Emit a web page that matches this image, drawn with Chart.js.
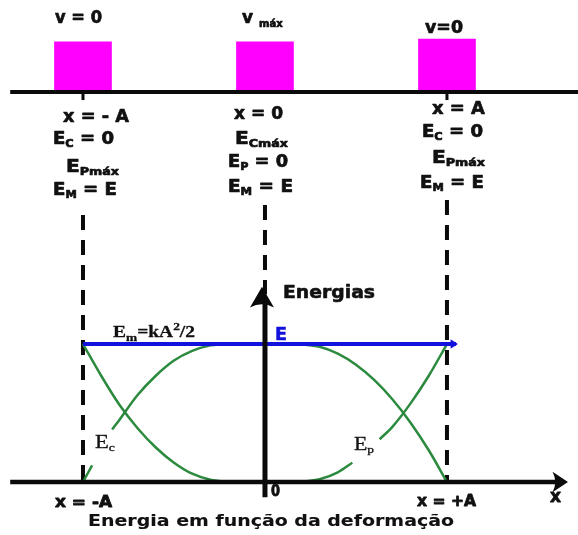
<!DOCTYPE html>
<html>
<head>
<meta charset="utf-8">
<script src="https://cdn.jsdelivr.net/npm/chart.js@4.4.0/dist/chart.umd.min.js"></script>
<style>
    html, body { margin: 0; padding: 0; background: #fff; }
    #wrap { width: 578px; height: 535px; position: relative; }
</style>
</head>
<body>
<div id="wrap"><canvas id="chart"></canvas></div>
<script>
// --- DATA (A = 1, E = 1) ---

// the three positions of the block: x = -A, 0, +A
const positions = [-1, 0, 1];
const speedLabels = ['v = 0', 'v _{máx}', 'v=0'];
const stateLabels = [
    ['x = - A', 'E_{C} = 0', 'E_{Pmáx}', 'E_{M} = E'],
    ['x = 0', 'E_{Cmáx}', 'E_{P} = 0', 'E_{M} = E'],
    ['x = A', 'E_{C} = 0', 'E_{Pmáx}', 'E_{M} = E'],
];

// bottom axis labels
const xTickValues = [-1, 0, 1];
const xTickLabels = ['x = -A', '0', 'x = +A'];
const xAxisTitle = 'x';
const yAxisTitle = 'Energias';
const chartTitle = 'Energia em função da deformação';

// mechanical energy (constant)
const emX = [-1, 1.05];
const emY = [1, 1];
const emLabel = 'E_{m}=kA^{2}/2';

// kinetic energy branches (gap where the label sits)
const ecLeftX = [-1, -0.95, -0.9, -0.84, -0.8, -0.7, -0.6, -0.5, -0.4, -0.3, -0.23];
const ecLeftY = [0, 0.12, null, 0.38, 0.45, 0.63, 0.77, 0.88, 0.95, 0.99, 1];
const ecRightX = [0.18, 0.3, 0.4, 0.5, 0.6, 0.7, 0.8, 0.9, 1];
const ecRightY = [1, 0.98, 0.93, 0.85, 0.74, 0.6, 0.43, 0.23, 0];

// potential energy branches
const epLeftX = [-1, -0.9, -0.8, -0.7, -0.6, -0.5, -0.4, -0.3, -0.2];
const epLeftY = [1, 0.77, 0.56, 0.39, 0.25, 0.14, 0.06, 0.016, 0];
const epRightX = [0.19, 0.3, 0.4, 0.48, 0.55, 0.63, 0.7, 0.8, 0.9, 1];
const epRightY = [0, 0.02, 0.07, 0.14, null, 0.31, 0.4, 0.57, 0.77, 1];

// block (floor line and block top), dashed guide tops
const floorLevel = 2.826;
const blockTop = [3.19, 3.19, 3.21];
const guideTop = [1.935, 2.007, 2.043];
const guideBottom = [0, 1.36, 0];

// --- helpers ---
const pts = (xs, ys) => xs.map((x, i) => ({ x, y: ys[i] }));

function parseRich(s) {
    const out = [];
    const re = /([_^])\{([^}]*)\}/g;
    let last = 0, m;
    while ((m = re.exec(s))) {
        if (m.index > last) out.push({ t: s.slice(last, m.index), k: 0 });
        out.push({ t: m[2], k: m[1] === '_' ? 1 : 2 });
        last = re.lastIndex;
    }
    if (last < s.length) out.push({ t: s.slice(last), k: 0 });
    return out;
}

// draw text (with sub/superscripts) from left x, centred on y, stretched to width w
function drawRich(ctx, s, x, y, w, o) {
    const parts = parseRich(s);
    const fam = o.family || '"DejaVu Sans"';
    const wt = o.weight || 'bold';
    const big = `${wt} ${o.size}px ${fam}`;
    const small = `${wt} ${Math.round(o.size * (o.subScale || 0.68))}px ${fam}`;
    let total = 0;
    parts.forEach(p => { ctx.font = p.k ? small : big; p.w = ctx.measureText(p.t).width; total += p.w; });
    ctx.save();
    ctx.translate(x, y);
    if (w) ctx.scale(w / total, 1);
    ctx.fillStyle = o.color || '#111';
    ctx.strokeStyle = o.color || '#111';
    ctx.lineWidth = o.stroke || 0;
    ctx.lineJoin = 'round';
    ctx.textBaseline = 'middle';
    ctx.textAlign = 'left';
    let cx = 0;
    parts.forEach(p => {
        ctx.font = p.k ? small : big;
        const dy = p.k === 1 ? o.size * 0.3 : p.k === 2 ? -o.size * 0.38 : 0;
        ctx.fillText(p.t, cx, dy);
        if (o.stroke) ctx.strokeText(p.t, cx, dy);
        cx += p.w;
    });
    ctx.restore();
}

// text layout [left, centreY, width] in pixels
const speedLayout = [[55, 19, 47], [242, 19, 0], [425, 29, 38]];
const stateLayout = [
    [[63, 117, 66], [53, 139, 61], [66, 167, 53], [53, 190, 64]],
    [[234, 114, 49], [235, 139, 53], [228, 162, 60], [228, 187, 65]],
    [[432, 109, 53], [422, 132, 61], [432, 158, 53], [420, 183, 64]],
];
const tickLayout = [[55, 503, 57], [271, 492, 9], [417, 502, 59]];

const INK = '#0a0a0a';
const GREEN = '#2b8a3e';
const BLUE = '#1212dc';

const annotations = {
    id: 'annotations',
    afterDatasetsDraw(chart) {
        const { ctx, scales: { x, y } } = chart;
        const px = v => x.getPixelForValue(v);
        const py = v => y.getPixelForValue(v);
        ctx.save();

        // small ticks under the floor line
        ctx.fillStyle = INK;
        [positions[0], positions[2]].forEach(p => ctx.fillRect(px(p) - 1.5, py(floorLevel) + 1, 3, 7));

        // arrow heads
        ctx.beginPath();
        ctx.moveTo(px(0) - 3, py(1.415));
        ctx.lineTo(px(0) + 9, py(1.265));
        ctx.quadraticCurveTo(px(0) - 3, py(1.31), px(0) - 15, py(1.265));
        ctx.closePath();
        ctx.fill();

        ctx.beginPath();
        ctx.moveTo(px(1.665), py(0));
        ctx.lineTo(px(1.58), py(0.075));
        ctx.quadraticCurveTo(px(1.61), py(0), px(1.58), py(-0.075));
        ctx.closePath();
        ctx.fill();

        ctx.fillStyle = BLUE;
        ctx.beginPath();
        ctx.moveTo(px(1.06), py(1));
        ctx.lineTo(px(1.02), py(1.035));
        ctx.lineTo(px(1.02), py(0.965));
        ctx.closePath();
        ctx.fill();

        // block labels
        speedLabels.forEach((s, i) => {
            const [lx, ly, lw] = speedLayout[i];
            drawRich(ctx, s, lx, ly, lw, { size: 17, subScale: 0.6, stroke: 0.7 });
        });
        stateLabels.forEach((col, i) => col.forEach((s, j) => {
            const [lx, ly, lw] = stateLayout[i][j];
            drawRich(ctx, s, lx, ly, lw, { size: 17.5, subScale: 0.64, stroke: 0.7 });
        }));

        // axis labels
        xTickLabels.forEach((s, i) => {
            const [lx, ly, lw] = tickLayout[i];
            drawRich(ctx, s, lx, ly, lw, { size: 15, stroke: 0.8 });
        });
        drawRich(ctx, xAxisTitle, 550, 498, 11, { size: 17, stroke: 0.8 });
        drawRich(ctx, yAxisTitle, 283, 293, 92, { size: 18, stroke: 0.6 });
        drawRich(ctx, chartTitle, 88, 522, 366, { size: 16, stroke: 0.1 });

        // energy labels
        drawRich(ctx, emLabel, 113, 333, 82, { size: 16, family: '"Liberation Serif"', subScale: 0.7, stroke: 0.3 });
        drawRich(ctx, 'E', 275, 336, 12, { size: 17, color: BLUE, stroke: 0.5 });
        drawRich(ctx, 'E_{c}', 95, 443, 20, { size: 18, weight: 'normal', family: '"Liberation Serif"', subScale: 0.6, stroke: 0.3 });
        drawRich(ctx, 'E_{p}', 354, 445, 20, { size: 18, weight: 'normal', family: '"Liberation Serif"', subScale: 0.6, stroke: 0.3 });

        ctx.restore();
    }
};

const line = (data, color, width, extra = {}) => Object.assign({
    type: 'scatter', data, showLine: true, borderColor: color, borderWidth: width,
    pointRadius: 0, fill: false, spanGaps: false,
}, extra);

const curve = data => line(data, GREEN, 2.5, { cubicInterpolationMode: 'monotone', order: 3 });

new Chart(document.getElementById('chart'), {
    type: 'scatter',
    data: {
        datasets: [
            // blocks
            {
                type: 'bar',
                data: positions.map((p, i) => ({ x: p, y: [floorLevel, blockTop[i]] })),
                backgroundColor: '#ff00ff', borderWidth: 0, barThickness: 57, order: 5,
            },
            // floor line
            line(pts([-1.4, 1.72], [floorLevel, floorLevel]), INK, 4, { order: 4 }),
            // dashed guides
            ...positions.map((p, i) => line(pts([p, p], [guideTop[i], guideBottom[i]]), INK, 4,
                { borderDash: [15, 10], order: 6 })),
            // energy curves
            curve(pts(ecLeftX, ecLeftY)),
            curve(pts(ecRightX, ecRightY)),
            curve(pts(epLeftX, epLeftY)),
            curve(pts(epRightX, epRightY)),
            // mechanical energy
            line(pts(emX, emY), BLUE, 4, { order: 2 }),
            // axes
            line(pts([-1.4, 1.6], [0, 0]), INK, 4.5, { order: 1 }),
            line(pts([0, 0], [-0.11, 1.3]), INK, 5, { order: 1 }),
        ]
    },
    options: {
        responsive: true,
        maintainAspectRatio: false,
        animation: false,
        events: [],
        layout: { padding: 0 },
        plugins: { legend: { display: false }, tooltip: { enabled: false } },
        scales: {
            x: { type: 'linear', min: -1.456, max: 1.72, offset: false, display: false },
            y: { type: 'linear', min: -0.384, max: 3.493, display: false },
        }
    },
    plugins: [annotations]
});
</script>
</body>
</html>
